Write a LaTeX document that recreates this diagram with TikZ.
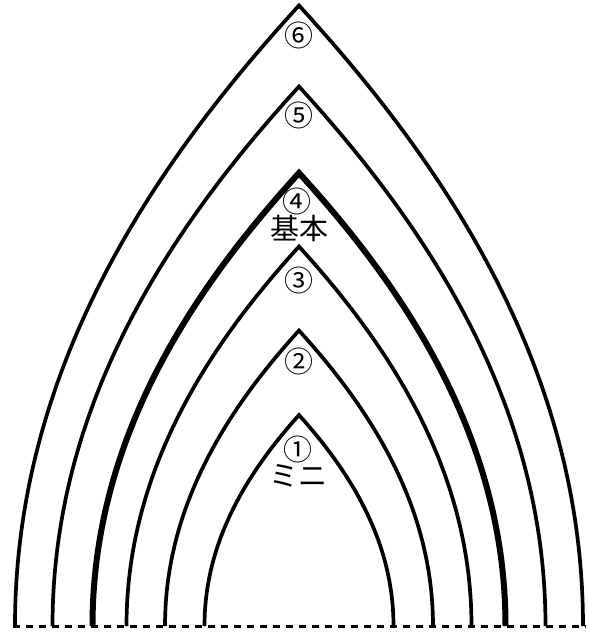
\documentclass[tikz,border=0pt]{standalone}
\usepackage{fontspec}
\newfontfamily\jpfont{Noto Sans CJK JP}
\begin{document}
\begin{tikzpicture}[x=1pt,y=-1pt,
  archline/.style={line join=miter},
  label/.style={font=\jpfont\fontsize{29}{29}\selectfont,inner sep=0pt,text height=0.78em,text depth=0.03em}]
\useasboundingbox (0,0) rectangle (589,632);
\def\cx{299}
\def\by{626}
\foreach \w/\h/\lw in {94.5/211/3.7, 134/295.5/3.7, 172.5/379.5/3.7, 206.5/453/6.0, 246.5/539.5/3.7, 284/620.5/3.7}{
  \draw[archline,line width=\lw pt]
    (\cx-\w,\by) .. controls (\cx-\w,\by-0.42*\h) and (\cx-0.5*\w,\by-0.75*\h) .. (\cx,\by-\h)
    .. controls (\cx+0.5*\w,\by-0.75*\h) and (\cx+\w,\by-0.42*\h) .. (\cx+\w,\by);
}
\coordinate (bl) at (13,626.5);
\coordinate (br) at (586,626.5);
\draw[line width=2.4pt,dash pattern=on 7pt off 6pt] (bl) -- (br);
\node[label] (n6) at (299,42.5) {⑥};
\node[label] (n5) at (299,123) {⑤};
\node[label] (n4) at (297,209) {④};
\node[label] (t4) at (299,236) {基本};
\node[label] (n3) at (299,288) {③};
\node[label] (n2) at (299,369) {②};
\node[label] (n1) at (298,456.5) {①};
\node[label] (t1) at (298,483) {ミニ};
\end{tikzpicture}
\end{document}
